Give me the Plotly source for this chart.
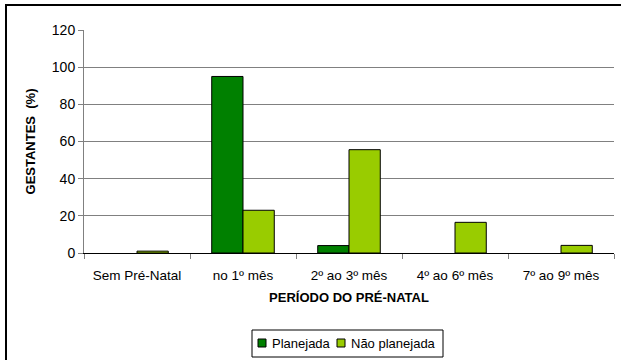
import plotly.graph_objects as go

categories = ["Sem Pré-Natal", "no 1º mês", "2º ao 3º mês", "4º ao 6º mês", "7º ao 9º mês"]
planejada = [None, 95, 4, None, None]
nao_planejada = [1, 23, 55.6, 16.5, 4.1]
y_ticks = [0, 20, 40, 60, 80, 100, 120]
series_names = ["Planejada", "Não planejada"]
series_colors = ["#008000", "#99CC00"]

FONT = "Liberation Sans, Arial, sans-serif"
W, H = 621, 360
L, R, T, B = 84, 7, 30, 107
PW, PH = W - L - R, H - T - B


def px(x):
    return (x - L) / PW


def py(y):
    return (H - B - y) / PH


fig = go.Figure()
for name, vals, col in zip(series_names, [planejada, nao_planejada], series_colors):
    fig.add_trace(go.Bar(name=name, x=categories, y=vals,
                         marker=dict(color=col, line=dict(color="black", width=1))))

fig.update_layout(
    width=W, height=H,
    margin=dict(l=L, r=R, t=T, b=B, autoexpand=False),
    paper_bgcolor="white", plot_bgcolor="white",
    font=dict(family=FONT, size=13, color="black"),
    barmode="group", bargap=0.41, bargroupgap=0,
    showlegend=False,
    xaxis=dict(type="category", tickson="boundaries", ticks="outside", ticklen=5,
               tickcolor="#808080", showline=True, linecolor="black", linewidth=1,
               showgrid=False, tickfont=dict(size=13.5), ticklabelstandoff=10,
               automargin=False,
               title=dict(text="<b>PERÍODO DO PRÉ-NATAL</b>", font=dict(size=13), standoff=10)),
    yaxis=dict(range=[0, 120], tickvals=y_ticks, ticks="outside", ticklen=5,
               tickcolor="#808080", showline=True, linecolor="#808080", linewidth=1,
               showgrid=True, gridcolor="#808080", gridwidth=1, zeroline=False,
               tickfont=dict(size=14), automargin=False,
               title=dict(text="<b>GESTANTES  (%)</b>", font=dict(size=13), standoff=13)),
)

# outer chart frame
fig.add_shape(type="rect", xref="paper", yref="paper",
              x0=px(6), x1=px(640), y0=py(400), y1=py(5),
              line=dict(color="black", width=2), fillcolor="rgba(0,0,0,0)", layer="above")

# legend (drawn compactly, as in the original)
fig.add_shape(type="rect", xref="paper", yref="paper",
              x0=px(252), x1=px(443), y0=py(357), y1=py(330),
              line=dict(color="black", width=1), fillcolor="white")
sq_x = [258, 337]
txt_x = [270, 349]
for name, col, sx, tx in zip(series_names, series_colors, sq_x, txt_x):
    fig.add_shape(type="rect", xref="paper", yref="paper",
                  x0=px(sx), x1=px(sx + 8), y0=py(347), y1=py(339),
                  line=dict(color="black", width=1), fillcolor=col)
    fig.add_annotation(text=name, xref="paper", yref="paper", x=px(tx), y=py(343),
                       xanchor="left", yanchor="middle", showarrow=False,
                       font=dict(size=13, family=FONT))

fig.write_html("out.html")
